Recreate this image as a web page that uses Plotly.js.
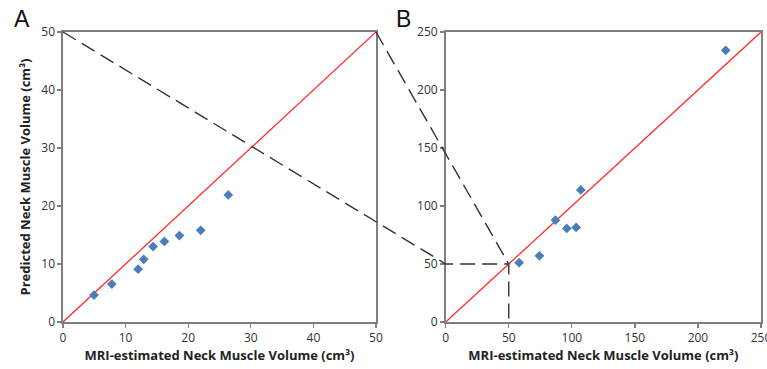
<!DOCTYPE html>
<html>
<head>
<meta charset="utf-8">
<script src="https://cdn.plot.ly/plotly-3.0.1.min.js"></script>
<style>html,body{margin:0;padding:0;background:#fff}#chart{width:767px;height:369px}</style>
</head>
<body>
<div id="chart"></div>
<script>
// Panel A data
const mriA = [4.95, 7.8, 12.0, 12.9, 14.4, 16.2, 18.6, 22.0, 26.4];
const predA = [4.65, 6.55, 9.1, 10.8, 13.0, 13.9, 14.9, 15.8, 21.9];
// Panel B data
const mriB = [58.2, 74.3, 87.0, 96.0, 103.4, 107.1, 222.0];
const predB = [51.1, 57.1, 87.8, 80.7, 81.5, 113.9, 234.2];
// Axis ranges / ticks
const rangeA = [0, 50];
const rangeB = [0, 250];
const ticksA = [0, 10, 20, 30, 40, 50];
const ticksB = [0, 50, 100, 150, 200, 250];
const xTitle = 'MRI-estimated Neck Muscle Volume (cm³)';
const yTitle = 'Predicted Neck Muscle Volume (cm³)';
const panelLabels = ['A', 'B'];

const W = 767, H = 369;
const margin = {l: 63, r: 6, t: 32, b: 47};
const domA = [0, 0.4484];
const domB = [0.5483, 1];

// Map data values to paper coordinates for the connector lines
function px(dom, rng, v) { return dom[0] + (v - rng[0]) / (rng[1] - rng[0]) * (dom[1] - dom[0]); }
function py(rng, v) { return (v - rng[0]) / (rng[1] - rng[0]); }

const blue = '#4A7EBB';
const font = 'Open Sans, Liberation Sans, Arial, sans-serif';

const traces = [
  {x: rangeA, y: rangeA, xaxis: 'x', yaxis: 'y', mode: 'lines', line: {color: '#FF2A2A', width: 1.3}, hoverinfo: 'skip'},
  {x: mriA, y: predA, xaxis: 'x', yaxis: 'y', mode: 'markers', marker: {symbol: 'diamond', size: 7.5, color: blue}},
  {x: rangeB, y: rangeB, xaxis: 'x2', yaxis: 'y2', mode: 'lines', line: {color: '#FF2A2A', width: 1.3}, hoverinfo: 'skip'},
  {x: mriB, y: predB, xaxis: 'x2', yaxis: 'y2', mode: 'markers', marker: {symbol: 'diamond', size: 7.5, color: blue}}
];

const axisCommon = {
  showgrid: false, zeroline: false, showline: true, mirror: true,
  linecolor: '#7f7f7f', linewidth: 1.6,
  ticks: 'outside', ticklen: 4, tickcolor: '#7f7f7f', tickwidth: 1.3,
  tickfont: {family: font, size: 12, color: '#333'}, fixedrange: true
};

const dash = {color: '#333', width: 1.4, dash: '15px,7px'};
const bZeroY = px(domB, rangeB, 0);
const b50x = px(domB, rangeB, 50);
const b50y = py(rangeB, 50);
const shapes = [
  // A top-left -> B (0,50) -> B (50,50) -> B (50,0)
  {type: 'path', xref: 'paper', yref: 'paper',
   path: `M ${px(domA, rangeA, 0)} ${py(rangeA, 50)} L ${bZeroY} ${b50y} L ${b50x} ${b50y} L ${b50x} ${py(rangeB, 0)}`,
   line: dash},
  // A top-right -> B (50,50)
  {type: 'line', xref: 'paper', yref: 'paper',
   x0: px(domA, rangeA, 50), y0: py(rangeA, 50), x1: b50x, y1: b50y, line: dash}
];

const titleFont = {family: font, size: 13, color: '#222', weight: 'bold'};
const layout = {
  width: W, height: H, margin: margin,
  paper_bgcolor: '#fff', plot_bgcolor: 'rgba(0,0,0,0)',
  showlegend: false,
  xaxis: Object.assign({}, axisCommon, {domain: domA, range: rangeA, tickvals: ticksA, anchor: 'y',
    title: {text: xTitle, font: titleFont, standoff: 6}}),
  yaxis: Object.assign({}, axisCommon, {domain: [0, 1], range: rangeA, tickvals: ticksA, anchor: 'x',
    title: {text: yTitle, font: titleFont, standoff: 8}}),
  xaxis2: Object.assign({}, axisCommon, {domain: domB, range: rangeB, tickvals: ticksB, anchor: 'y2',
    ticklabeloverflow: 'allow',
    title: {text: xTitle, font: titleFont, standoff: 6}}),
  yaxis2: Object.assign({}, axisCommon, {domain: [0, 1], range: rangeB, tickvals: ticksB, anchor: 'x2'}),
  shapes: shapes,
  annotations: [
    {text: panelLabels[0], xref: 'paper', yref: 'paper', x: -0.073, y: 1.045, xanchor: 'left', yanchor: 'middle',
     showarrow: false, font: {family: 'Liberation Sans, Arial, sans-serif', size: 23, color: '#111'}},
    {text: panelLabels[1], xref: 'paper', yref: 'paper', x: 0.474, y: 1.045, xanchor: 'left', yanchor: 'middle',
     showarrow: false, font: {family: 'Liberation Sans, Arial, sans-serif', size: 23, color: '#111'}}
  ]
};

Plotly.newPlot('chart', traces, layout, {displayModeBar: false, staticPlot: true});
</script>
</body>
</html>
